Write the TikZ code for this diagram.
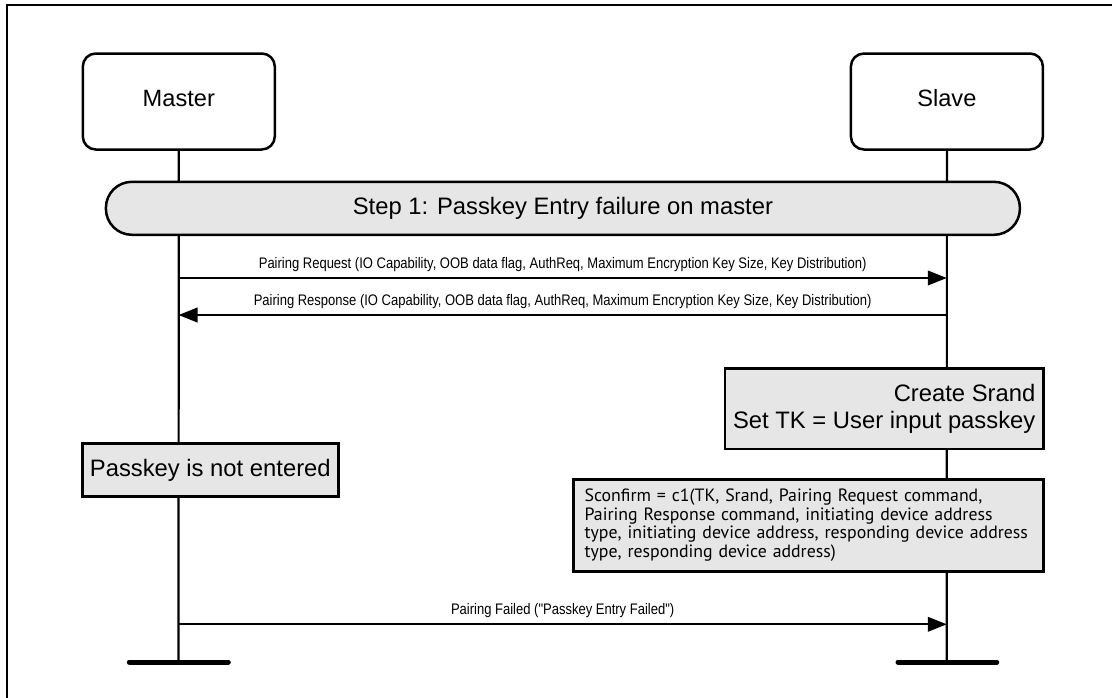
\documentclass[tikz,border=0pt]{standalone}
\usepackage{fontspec}
\setmainfont{Liberation Sans}
\newfontfamily\narrowfont{Liberation Sans}[FakeStretch=0.85]
\newfontfamily\humanfont{PT Sans}
\usetikzlibrary{arrows.meta}
\definecolor{boxgrey}{HTML}{E6E6E6}
\tikzset{
  actor/.style={draw, line width=2.5pt, rounded corners=13pt, minimum width=192pt, minimum height=96pt, font=\fontsize{23.6}{28}\selectfont, inner sep=0pt},
  phase/.style={draw, fill=boxgrey, line width=2.5pt, rounded corners=26pt, minimum width=914pt, minimum height=53pt, font=\fontsize{23.8}{28}\selectfont, inner sep=0pt},
  action/.style={draw, fill=boxgrey, line width=2.5pt, inner sep=0pt},
  lifeline/.style={line width=2.2pt},
  msg/.style={line width=2.2pt, -{Triangle[length=19pt, width=14.5pt]}},
  msglabel/.style={font=\narrowfont\fontsize{15.3}{18}\selectfont, inner sep=0pt, above=5.5pt},
  endbar/.style={line width=5pt, line cap=round},
  frame/.style={line width=2pt}
}
\begin{document}
\begin{tikzpicture}[x=1pt, y=-1pt]
\useasboundingbox (0,0) rectangle (1112,697);
\clip (0,0) rectangle (1112,697);
\draw[frame] (7,720) -- (7,5) -- (1130,5);

% lifeline end points
\coordinate (mend) at (178.5,662);
\coordinate (send) at (946.8,662);

\node[actor] (master) at (178.8,101.5) {\raisebox{0pt}[\height][7pt]{Master}};
\node[actor] (slave) at (946.9,101.5) {\raisebox{0pt}[\height][7pt]{Slave}};

\draw[lifeline] (master.south) -- (mend);
\draw[lifeline] (slave.south) -- (send);

\draw[endbar] (129.3,662) -- (228.3,662);
\draw[endbar] (898,662) -- (996.8,662);

\node[phase] (step) at (562.9,208.3) {Step 1: Passkey Entry failure on master};

% message coordinates
\coordinate (m1) at (178.5,278);
\coordinate (s1) at (946.8,278);
\coordinate (m2) at (178.5,315);
\coordinate (s2) at (946.8,315);
\coordinate (m3) at (178.5,624.3);
\coordinate (s3) at (946.8,624.3);

\draw[msg] (m1) -- node[msglabel] {Pairing Request (IO Capability, OOB data flag, AuthReq, Maximum Encryption Key Size, Key Distribution)} (s1);
\draw[msg] (s2) -- node[msglabel] {Pairing Response (IO Capability, OOB data flag, AuthReq, Maximum Encryption Key Size, Key Distribution)} (m2);

\node[action, minimum width=318.8pt, minimum height=80.5pt, align=right, font=\fontsize{23.8}{27.2}\selectfont] (srand) at (884.2,408.7)
  {Create Srand\\Set TK = User input passkey};

\node[action, minimum width=256pt, minimum height=53.4pt, font=\fontsize{23.8}{28}\selectfont] (passkey) at (210.3,470) {Passkey is not entered};

\node[action, minimum width=470pt, minimum height=92pt, text width=448pt, align=left, inner xsep=11pt, font=\humanfont\fontsize{17.8}{18.5}\selectfont] (sconf) at (808.6,525.3)
  {Sconfirm = c1(TK, Srand, Pairing Request command,\\Pairing Response command, initiating device address\\type, initiating device address, responding device address\\type, responding device address)};

\draw[msg] (m3) -- node[msglabel] {Pairing Failed ("Passkey Entry Failed")} (s3);
\end{tikzpicture}
\end{document}
